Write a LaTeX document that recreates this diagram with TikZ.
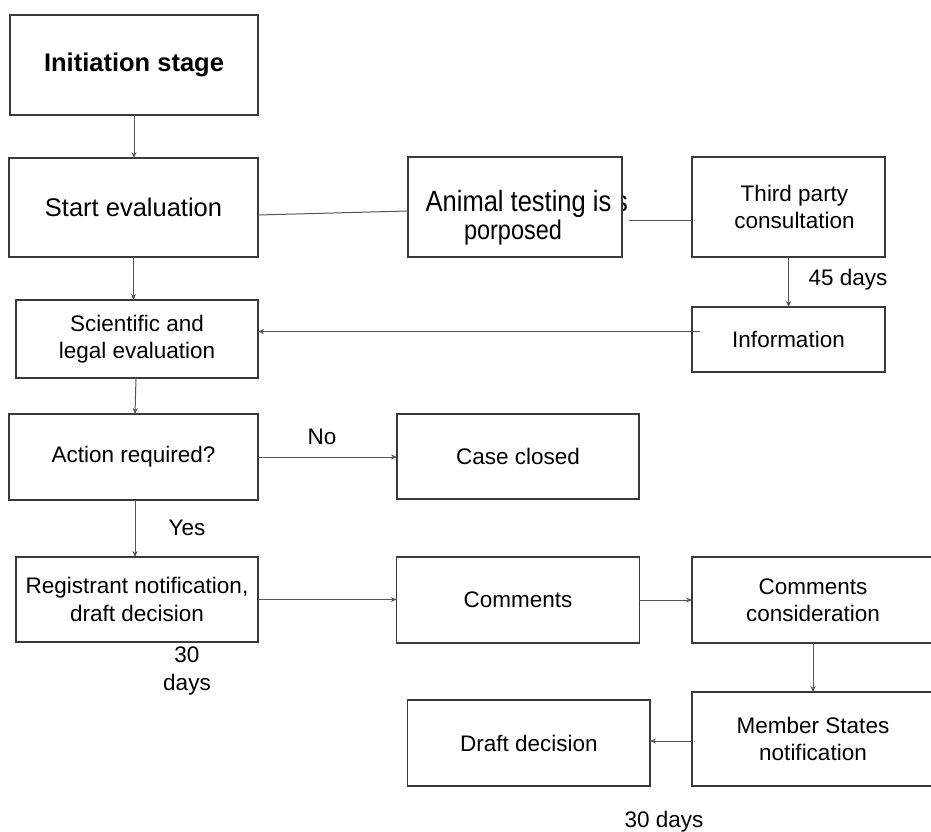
\documentclass[tikz,border=0pt]{standalone}
\usepackage{fontspec}
\setmainfont{Liberation Sans}
\usetikzlibrary{arrows.meta}
\definecolor{boxline}{HTML}{3A3A3A}
\definecolor{conline}{HTML}{555555}
\begin{document}
\begin{tikzpicture}[x=1pt,y=-1pt,
  every node/.style={inner sep=0pt, outer sep=0pt},
  box/.style={draw=boxline, line width=1.2pt, fill=white, align=center,
              font=\fontsize{22.5}{27.5}\selectfont},
  bigtext/.style={font=\fontsize{25.5}{30}\selectfont},
  conn/.style={draw=conline, line width=1pt},
  arr/.style={conn, -{Stealth[length=6pt,width=5pt]}},
  lbl/.style={align=center, font=\fontsize{22.5}{27.5}\selectfont}]
\useasboundingbox (0,0) rectangle (931,832);
\clip (0,0) rectangle (931,832);

% boxes
\node[box, font=\fontsize{25.5}{30}\selectfont\bfseries, minimum width=248pt, minimum height=100pt] (init) at (134,65) {Initiation stage};
\node[box, bigtext, minimum width=249pt, minimum height=99pt] (start) at (133.5,207.5) {\raisebox{-4.5pt}{Start evaluation}};

% fragment of text peeking out of the box
\node[anchor=base west, font=\fontsize{25.5}{30}\selectfont] (sfrag) at (615,211) {\scalebox{1}[1.15]{s}};
\node[box, minimum width=214pt, minimum height=100pt] (animal) at (515,207) {};
\node[anchor=base, font=\fontsize{25.5}{30}\selectfont] (animaltxta) at (518.5,211) {\scalebox{1}[1.15]{Animal testing is}};
\node[anchor=base, font=\fontsize{23.5}{30}\selectfont] (animaltxtb) at (513,239) {\scalebox{1}[1.15]{porposed}};

\node[box, minimum width=193pt, minimum height=100pt] (third) at (788.5,207) {\hspace*{12pt}Third party\\\hspace*{12pt}consultation};
\node[box, minimum width=193pt, minimum height=65pt] (info) at (788.5,339.5) {Information};
\node[box, minimum width=242pt, minimum height=78pt] (sci) at (137,339) {Scientific and\\legal evaluation};
\node[box, minimum width=249pt, minimum height=86pt] (action) at (133.5,457) {Action required?};
\node[box, minimum width=242pt, minimum height=85pt] (case) at (518,456.5) {Case closed};
\node[box, minimum width=242pt, minimum height=85pt] (reg) at (137,599.5) {Registrant notification,\\draft decision};
\node[box, minimum width=242.5pt, minimum height=86pt] (comments) at (518,600) {Comments};
\node[box, minimum width=242pt, minimum height=86pt] (comcons) at (813,600) {Comments\\consideration};
\node[box, minimum width=242pt, minimum height=94pt] (member) at (813,739) {Member States\\notification};
\node[box, minimum width=242.4pt, minimum height=86pt] (draft) at (528.8,743) {Draft decision};

% connectors
\draw[arr] (init.south) -- (init.south |- start.north);
\draw[arr] (start.south) -- (start.south |- sci.north);
\draw[conn] ([yshift=-7.5pt]start.east) -- ([yshift=-4pt]animal.west);
\draw[conn] ([xshift=7pt,yshift=-13pt]animal.east) -- ([yshift=-13pt]third.west);
\draw[arr] (third.south) -- (third.south |- info.north);
\coordinate (ia) at ([xshift=8pt,yshift=8pt]info.west);
\draw[arr] (ia) -- (ia -| sci.east);
\draw[arr] ([xshift=-1pt]sci.south) -- ([xshift=1.5pt]action.north);
\draw[arr] (action.east) -- (action.east -| case.west);
\draw[arr] ([xshift=1.5pt]action.south) -- ([xshift=-2pt]reg.north);
\draw[arr] (reg.east) -- (reg.east -| comments.west);
\draw[arr] (comments.east) -- (comments.east -| comcons.west);
\draw[arr] (comcons.south) -- (comcons.south |- member.north);
\draw[arr] ([yshift=-2pt]member.west) -- ([yshift=-2pt]member.west -| draft.east);

% labels
\node[lbl] (days45) at (848,280) {45 days};
\node[lbl] (no) at (322,437) {No};
\node[lbl] (yes) at (187,528) {Yes};
\node[lbl] (days30a) at (187,671) {30\\days};
\node[lbl] (days30b) at (664,822) {30 days};
\end{tikzpicture}
\end{document}
